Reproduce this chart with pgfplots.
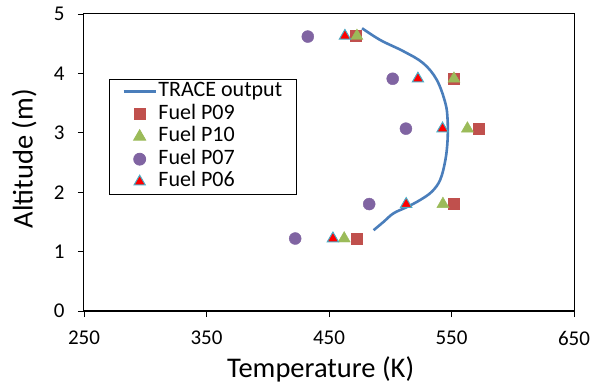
\documentclass[border=0pt]{standalone}
\usepackage{fontspec}
\setmainfont{Carlito}
\usepackage{pgfplots}
\pgfplotsset{compat=1.18}
\definecolor{lineblue}{HTML}{4A7EBB}
\definecolor{sqred}{HTML}{C0504D}
\definecolor{trigreen}{HTML}{9BBB59}
\definecolor{cpurple}{HTML}{8064A2}
\definecolor{tcyan}{HTML}{4BACC6}
\pgfplotsset{
  lineleg/.style={legend image code/.code={\draw[##1] (0pt,0pt) -- (32pt,0pt);}},
  markleg/.style={legend image code/.code={\draw[##1] plot coordinates {(16pt,0pt)};}},
}
\begin{document}
\begin{tikzpicture}
\begin{axis}[
  scale only axis,
  width=490pt, height=297pt,
  xmin=250, xmax=650, ymin=0, ymax=5,
  xtick={250,350,450,550,650},
  ytick={0,1,2,3,4,5},
  tick pos=left,
  tick align=outside,
  major tick length=6pt,
  axis line style={line width=1pt},
  every tick/.style={black, line width=0.8pt},
  /pgf/number format/assume math mode=true,
  /pgf/number format/1000 sep={},
  tick label style={font=\fontsize{21}{24}\selectfont},
  xticklabel style={yshift=-10.5pt},
  yticklabel style={xshift=-10pt},
  xlabel={Temperature (K)},
  ylabel={Altitude (m)},
  label style={font=\fontsize{28.5}{32}\selectfont},
  xlabel style={at={(axis description cs:0.483,-0.2235)}, anchor=base},
  ylabel style={at={(axis description cs:-0.122,0.513)}, anchor=center},
  legend cell align=left,
  legend style={at={(0.051,0.781)}, anchor=north west, draw=black, line width=0.8pt,
    font=\fontsize{22}{24}\selectfont, row sep=1pt,
    nodes={inner sep=1.5pt, text height=14.5pt, text depth=4pt},
    inner xsep=13pt, inner ysep=1.5pt},
]
\addplot[lineblue, line width=2.6pt, smooth, tension=0.6, lineleg]
  coordinates {
  (486.4,1.36) (494.5,1.50) (502.7,1.645) (513.6,1.75) (524.5,1.87) (534,2.01)
  (540.8,2.21) (545,2.54) (546.8,2.88) (546.8,3.22) (545,3.5)
  (538,3.89) (527,4.17) (511,4.37) (492,4.56) (477,4.76)};
\addlegendentry{TRACE output}
\addplot[only marks, mark=square*, mark size=5.5pt, sqred, mark options={draw=sqred, fill=sqred}, markleg]
  coordinates {(472,4.63) (552,3.91) (572.5,3.07) (552,1.80) (472.5,1.22)};
\addlegendentry{Fuel P09}
\addplot[only marks, mark=triangle*, mark size=7pt, trigreen, mark options={draw=trigreen, fill=trigreen}, markleg]
  coordinates {(472.8,4.63) (552,3.91) (563,3.07) (543,1.80) (462.4,1.22)};
\addlegendentry{Fuel P10}
\addplot[only marks, mark=*, mark size=6pt, cpurple, mark options={draw=cpurple, fill=cpurple}, markleg]
  coordinates {(432.7,4.62) (502,3.91) (512.8,3.07) (482.8,1.80) (422.4,1.22)};
\addlegendentry{Fuel P07}
\addplot[only marks, mark=triangle*, mark size=6.5pt, red, mark options={draw=tcyan, fill=red, line width=1pt}, markleg]
  coordinates {(463,4.63) (522.6,3.91) (542.7,3.07) (513,1.80) (453.2,1.22)};
\addlegendentry{Fuel P06}
\end{axis}
\pgfresetboundingbox
\path ([xshift=-84pt,yshift=-74pt]current axis.south west) rectangle ([xshift=25pt,yshift=14pt]current axis.north east);
\end{tikzpicture}
\end{document}
